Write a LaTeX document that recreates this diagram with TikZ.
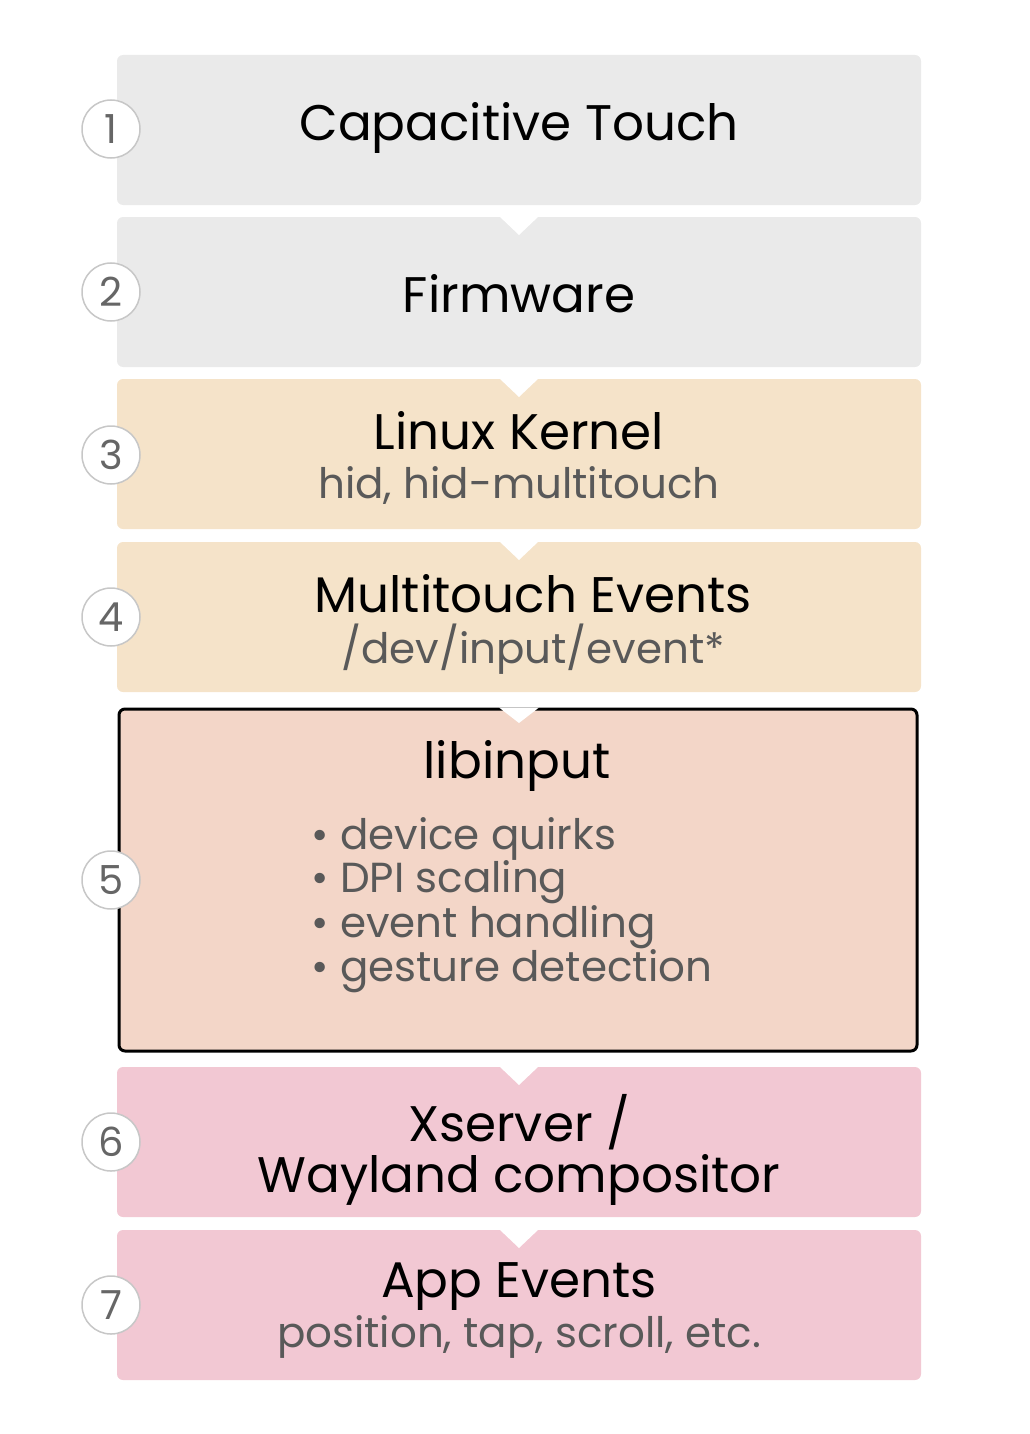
\documentclass[tikz,border=0pt]{standalone}
\usepackage{fontspec}
\setmainfont{Poppins}
\begin{document}
\begin{tikzpicture}[x=1pt,y=-1pt,
  box/.style={rounded corners=6pt},
  notch/.style={fill=white,draw=none},
  num/.style={circle,draw=black!22,line width=1.5pt,fill=white,minimum size=58pt,inner sep=0pt,text=black!60,font=\fontsize{40}{40}\selectfont},
  ttl/.style={font=\fontsize{50}{51}\selectfont,text=black,align=center},
  sub/.style={font=\fontsize{42}{44}\selectfont,text=black!65},
]
\useasboundingbox (0,0) rectangle (1030,1434);
\definecolor{cg}{HTML}{EAEAEA}
\definecolor{ct}{HTML}{F5E3C9}
\definecolor{cl}{HTML}{F3D6C8}
\definecolor{cp}{HTML}{F2C8D3}
\fill[box,cg] (117,55) rectangle (921,205);
\fill[box,cg] (117,217) rectangle (921,367);
\fill[box,ct] (117,379) rectangle (921,529);
\fill[box,ct] (117,542) rectangle (921,692);
\draw[box,fill=cl,line width=3pt] (119,709) rectangle (917,1051);
\fill[box,cp] (117,1067) rectangle (921,1217);
\fill[box,cp] (117,1230) rectangle (921,1380);
\foreach \y in {217,379,542,1067,1230}
  \fill[notch] (499,\y-1) -- (539,\y-1) -- (519,\y+18) -- cycle;
\fill[notch] (499,707.5) -- (539,707.5) -- (519,723) -- cycle;
\foreach \n/\y in {1/129,2/292,3/455,4/617,5/880,6/1142,7/1305}
  \node[num] (c\n) at (111,\y) {\n};
\node[ttl] (t1) at (519,128) {Capacitive Touch};
\node[ttl] (t2) at (519,294) {Firmware};
\node[ttl] (t3) at (519,431) {Linux Kernel};
\node[sub] (s3) at (519,486) {hid, hid-multitouch};
\node[ttl] (t4) at (533,594) {Multitouch Events};
\node[sub] (s4) at (533,649) {/dev/input/event*};
\node[ttl] (t5) at (517,766) {libinput};
\node[sub,anchor=west,align=left,font=\fontsize{42}{42}\selectfont] (s5) at (308,905)
  {• device quirks\\• DPI scaling\\• event handling\\• gesture detection};
\node[ttl] (t6) at (519,1150) {Xserver /\\Wayland compositor};
\node[ttl] (t7) at (519,1287) {App Events};
\node[sub] (s7) at (519,1337) {position, tap, scroll, etc.};
\end{tikzpicture}
\end{document}
